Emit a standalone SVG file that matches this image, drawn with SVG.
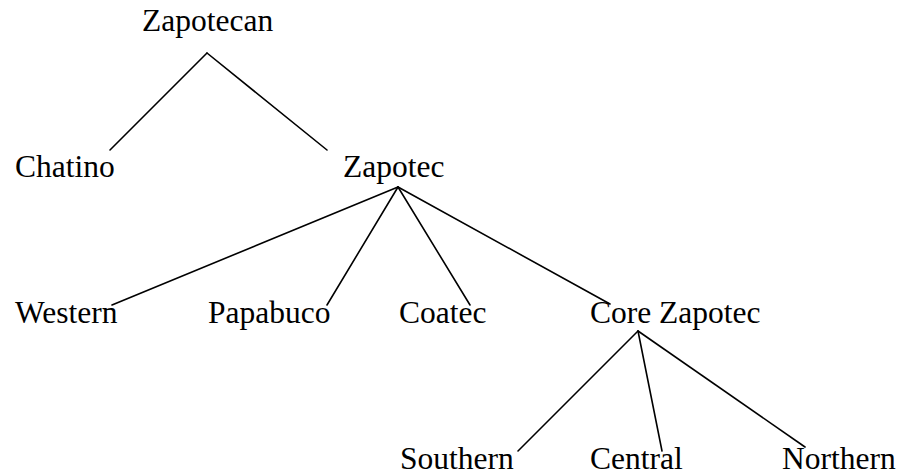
<svg xmlns="http://www.w3.org/2000/svg" width="905" height="476" viewBox="0 0 905 476">
<style>
text{font-family:"Liberation Serif","Times New Roman",serif;font-size:31.5px;fill:#000}
.e{stroke:#000;stroke-width:1.6;fill:none;stroke-linecap:round}
</style>
<rect width="905" height="476" fill="#fff"/>
<g id="connectors">
<line class="e" x1="207" y1="53" x2="110" y2="150"/>
<line class="e" x1="207" y1="53" x2="327" y2="150"/>
<line class="e" x1="398" y1="187" x2="112" y2="305"/>
<line class="e" x1="398" y1="187" x2="327" y2="305"/>
<line class="e" x1="398" y1="187" x2="470" y2="305"/>
<line class="e" x1="398" y1="187" x2="610" y2="304"/>
<line class="e" x1="638" y1="331" x2="518" y2="451"/>
<line class="e" x1="638" y1="331" x2="662" y2="451"/>
<line class="e" x1="638" y1="331" x2="805" y2="447"/>
</g>
<g id="zapotecan"><text x="142" y="31">Zapotecan</text></g>
<g id="chatino"><text x="15" y="177">Chatino</text></g>
<g id="zapotec"><text x="343" y="177">Zapotec</text></g>
<g id="western"><text x="15" y="323">Western</text></g>
<g id="papabuco"><text x="208" y="323">Papabuco</text></g>
<g id="coatec"><text x="399" y="323">Coatec</text></g>
<g id="core-zapotec"><text x="590" y="323">Core Zapotec</text></g>
<g id="southern"><text x="400" y="469">Southern</text></g>
<g id="central"><text x="590" y="469">Central</text></g>
<g id="northern"><text x="782" y="469">Northern</text></g>
</svg>
